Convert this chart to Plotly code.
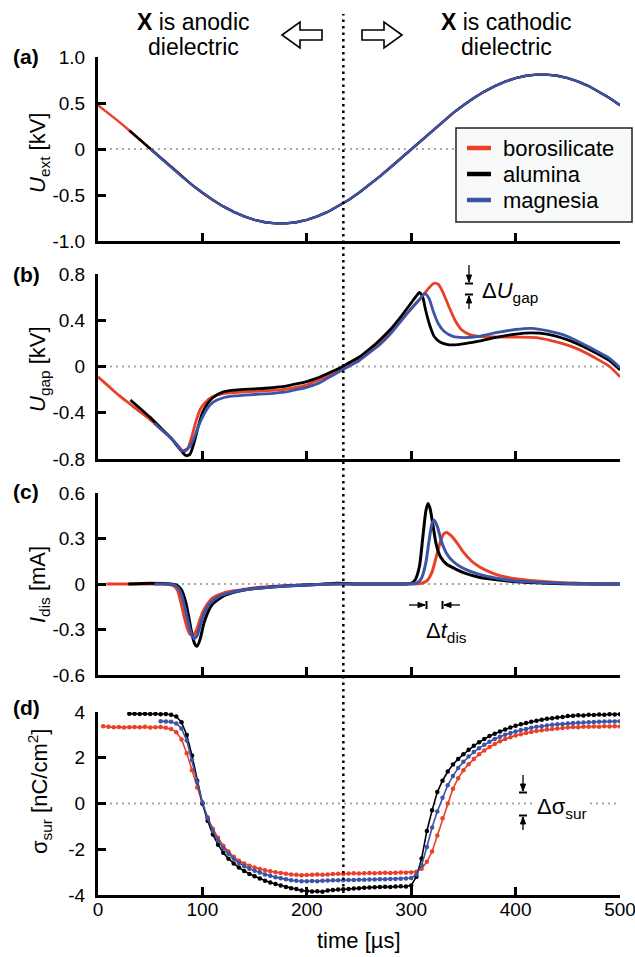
import plotly.graph_objects as go

W, H = 635, 957
FONT = "Liberation Sans, Arial, Helvetica, sans-serif"
RED, BLACK, BLUE = "#ea4028", "#000000", "#3b54a7"

# ---------------- data ----------------
names = ["borosilicate", "alumina", "magnesia"]

# (a) external voltage [kV]
t_ext = [0, 10, 20, 30, 40, 50, 60, 70, 80, 90, 100, 110, 120, 130, 140, 150, 160, 170, 180, 190,
         200, 210, 220, 230, 240, 250, 260, 270, 280, 290, 300, 310, 320, 330, 340, 350, 360, 370,
         380, 390, 400, 410, 420, 430, 440, 450, 460, 470, 480, 490, 500]
u_ext = [0.476, 0.390, 0.298, 0.201, 0.102, 0.0, -0.102, -0.201, -0.298, -0.390, -0.476, -0.555,
         -0.624, -0.684, -0.733, -0.770, -0.796, -0.808, -0.808, -0.796, -0.770, -0.733, -0.684,
         -0.624, -0.555, -0.476, -0.390, -0.298, -0.201, -0.102, 0.0, 0.102, 0.201, 0.298, 0.390,
         0.476, 0.555, 0.624, 0.684, 0.733, 0.770, 0.796, 0.808, 0.808, 0.796, 0.770, 0.733, 0.684,
         0.624, 0.555, 0.476]
ext_start = {"borosilicate": 0, "alumina": 3, "magnesia": 5}   # index where each record starts

# (b) gap voltage [kV]
t_gap_boro = [0, 10, 20, 30, 40, 50, 60, 70, 78, 82, 86, 90, 94, 98, 103, 110, 120, 130, 140, 150,
              160, 170, 180, 190, 200, 210, 220, 230, 240, 250, 260, 270, 280, 290, 300, 310, 318,
              322, 326, 330, 336, 342, 348, 355, 365, 380, 400, 420, 440, 460, 475, 490, 500]
u_gap_boro = [-0.09, -0.17, -0.25, -0.32, -0.39, -0.46, -0.54, -0.62, -0.70, -0.74, -0.71, -0.60,
              -0.47, -0.37, -0.31, -0.26, -0.235, -0.225, -0.22, -0.215, -0.21, -0.205, -0.195,
              -0.18, -0.16, -0.12, -0.08, -0.03, 0.02, 0.07, 0.13, 0.21, 0.30, 0.40, 0.50, 0.60,
              0.69, 0.72, 0.71, 0.65, 0.52, 0.40, 0.32, 0.28, 0.26, 0.255, 0.255, 0.25, 0.21, 0.15,
              0.08, 0.0, -0.09]
t_gap_alum = [31, 40, 50, 60, 70, 78, 84, 88, 92, 96, 100, 105, 110, 120, 130, 140, 150, 160, 170,
              180, 190, 200, 210, 220, 230, 240, 250, 260, 270, 280, 290, 300, 305, 308, 311, 314,
              318, 322, 328, 335, 345, 360, 380, 400, 415, 430, 450, 470, 490, 500]
u_gap_alum = [-0.29, -0.36, -0.44, -0.53, -0.62, -0.71, -0.77, -0.76, -0.66, -0.52, -0.40, -0.32,
              -0.27, -0.22, -0.205, -0.198, -0.193, -0.188, -0.18, -0.17, -0.15, -0.13, -0.10,
              -0.06, -0.02, 0.03, 0.08, 0.15, 0.23, 0.32, 0.43, 0.55, 0.61, 0.64, 0.60, 0.48, 0.35,
              0.26, 0.21, 0.19, 0.19, 0.21, 0.25, 0.28, 0.29, 0.28, 0.23, 0.15, 0.05, -0.03]
t_gap_mag = [54, 60, 70, 76, 80, 84, 88, 92, 96, 100, 105, 110, 120, 130, 140, 150, 160, 170, 180,
             190, 200, 210, 220, 230, 240, 250, 260, 270, 280, 290, 300, 308, 313, 317, 321, 326,
             332, 340, 350, 365, 380, 400, 415, 430, 450, 470, 490, 500]
u_gap_mag = [-0.49, -0.54, -0.62, -0.68, -0.73, -0.72, -0.69, -0.62, -0.52, -0.44, -0.36, -0.31,
             -0.27, -0.255, -0.248, -0.242, -0.237, -0.23, -0.22, -0.20, -0.18, -0.15, -0.10,
             -0.05, 0.0, 0.05, 0.12, 0.19, 0.28, 0.39, 0.50, 0.58, 0.63, 0.59, 0.48, 0.37, 0.30,
             0.26, 0.25, 0.26, 0.29, 0.32, 0.33, 0.31, 0.26, 0.17, 0.07, -0.01]

# (c) discharge current [mA]
t_dis_boro = [8, 20, 40, 60, 68, 72, 76, 79, 82, 85, 88, 91, 94, 97, 100, 105, 110, 120, 130, 140,
              150, 170, 190, 210, 230, 250, 280, 300, 310, 315, 320, 324, 328, 331, 334, 338, 344,
              350, 358, 366, 375, 385, 400, 420, 440, 460, 480, 500]
i_dis_boro = [0.0, 0.0, 0.0, 0.0, -0.003, -0.01, -0.04, -0.11, -0.20, -0.28, -0.33, -0.34, -0.31,
              -0.25, -0.19, -0.13, -0.09, -0.06, -0.045, -0.035, -0.025, -0.015, -0.008, -0.003,
              0.0, 0.0, 0.0, 0.0, 0.005, 0.02, 0.08, 0.18, 0.28, 0.33, 0.34, 0.32, 0.27, 0.21,
              0.15, 0.11, 0.08, 0.055, 0.035, 0.02, 0.01, 0.005, 0.0, 0.0]
t_dis_alum = [29, 50, 70, 76, 80, 84, 87, 90, 93, 95, 98, 101, 105, 110, 120, 130, 140, 150, 170,
              190, 210, 230, 250, 270, 295, 300, 304, 308, 311, 314, 316, 318, 321, 324, 328, 334,
              342, 352, 365, 380, 400, 430, 460, 500]
i_dis_alum = [0.0, 0.005, 0.0, -0.01, -0.04, -0.12, -0.22, -0.33, -0.40, -0.41, -0.36, -0.27,
              -0.19, -0.13, -0.08, -0.055, -0.04, -0.03, -0.018, -0.01, -0.004, 0.005, 0.0, 0.0,
              0.0, 0.005, 0.03, 0.12, 0.30, 0.48, 0.53, 0.50, 0.38, 0.26, 0.18, 0.13, 0.10, 0.07,
              0.045, 0.03, 0.015, 0.005, 0.0, 0.0]
t_dis_mag = [54, 65, 72, 76, 80, 83, 86, 89, 92, 95, 98, 102, 107, 115, 125, 135, 150, 170, 190,
             210, 230, 260, 290, 302, 306, 310, 314, 317, 320, 322, 325, 329, 334, 340, 348, 358,
             370, 385, 400, 430, 460, 500]
i_dis_mag = [0.0, 0.0, -0.005, -0.02, -0.07, -0.15, -0.24, -0.32, -0.36, -0.34, -0.27, -0.19,
             -0.13, -0.085, -0.06, -0.045, -0.03, -0.018, -0.01, -0.004, 0.0, 0.0, 0.0, 0.003,
             0.01, 0.04, 0.14, 0.28, 0.40, 0.42, 0.38, 0.28, 0.20, 0.15, 0.11, 0.08, 0.055, 0.035,
             0.02, 0.008, 0.002, 0.0]

# (d) surface charge density [nC/cm^2], sampled every 5 us
t_sur_boro = list(range(5, 501, 5))
s_sur_boro = [3.38, 3.35, 3.33, 3.34, 3.32, 3.33, 3.34, 3.33, 3.35, 3.32, 3.33, 3.34, 3.31, 3.26,
              3.12, 2.80, 2.20, 1.45, 0.70, 0.0, -0.60, -1.10, -1.50, -1.85, -2.10, -2.33, -2.50,
              -2.62, -2.72, -2.80, -2.86, -2.92, -2.96, -3.00, -3.04, -3.07, -3.10, -3.12, -3.14,
              -3.13, -3.12, -3.10, -3.12, -3.10, -3.08, -3.07, -3.08, -3.06, -3.05, -3.06, -3.05,
              -3.04, -3.05, -3.04, -3.03, -3.04, -3.03, -3.02, -3.03, -3.02, -2.98, -2.85, -2.55,
              -2.10, -1.40, -0.65, 0.0, 0.65, 1.10, 1.45, 1.72, 1.95, 2.15, 2.32, 2.47, 2.60, 2.72,
              2.82, 2.90, 2.97, 3.03, 3.08, 3.13, 3.17, 3.20, 3.23, 3.26, 3.28, 3.30, 3.32, 3.34,
              3.33, 3.36, 3.35, 3.37, 3.36, 3.38, 3.37, 3.38, 3.37]
t_sur_alum = list(range(30, 501, 5))
s_sur_alum = [3.92, 3.92, 3.91, 3.92, 3.91, 3.92, 3.90, 3.91, 3.88, 3.80, 3.55, 3.00, 2.10, 1.00,
              0.0, -0.75, -1.35, -1.80, -2.15, -2.42, -2.62, -2.80, -2.95, -3.08, -3.18, -3.28,
              -3.38, -3.45, -3.52, -3.58, -3.65, -3.70, -3.74, -3.80, -3.82, -3.85, -3.84, -3.86,
              -3.80, -3.78, -3.76, -3.75, -3.74, -3.72, -3.70, -3.68, -3.67, -3.66, -3.65, -3.64,
              -3.65, -3.63, -3.62, -3.63, -3.58, -3.20, -2.40, -1.20, -0.30, 0.50, 1.00, 1.40,
              1.70, 1.95, 2.15, 2.35, 2.52, 2.68, 2.82, 2.95, 3.05, 3.15, 3.24, 3.32, 3.40, 3.46,
              3.52, 3.57, 3.62, 3.66, 3.70, 3.73, 3.76, 3.78, 3.82, 3.84, 3.86, 3.85, 3.88, 3.87,
              3.89, 3.88, 3.90, 3.89, 3.90]
t_sur_mag = list(range(60, 501, 5))
s_sur_mag = [3.60, 3.58, 3.57, 3.50, 3.28, 2.75, 1.90, 0.95, 0.05, -0.65, -1.20, -1.62, -1.95,
             -2.20, -2.42, -2.60, -2.74, -2.85, -2.94, -3.02, -3.10, -3.16, -3.22, -3.27, -3.31,
             -3.35, -3.38, -3.40, -3.40, -3.39, -3.40, -3.38, -3.37, -3.36, -3.35, -3.35, -3.34,
             -3.34, -3.33, -3.33, -3.32, -3.32, -3.31, -3.31, -3.30, -3.30, -3.29, -3.28, -3.26,
             -3.10, -2.70, -1.90, -1.05, -0.35, 0.25, 0.80, 1.20, 1.55, 1.82, 2.05, 2.25, 2.42,
             2.57, 2.70, 2.82, 2.92, 3.01, 3.08, 3.15, 3.21, 3.26, 3.31, 3.35, 3.38, 3.41, 3.44,
             3.46, 3.48, 3.50, 3.52, 3.53, 3.54, 3.55, 3.56, 3.57, 3.58, 3.58, 3.59, 3.60]

x_ticks = [0, 100, 200, 300, 400, 500]
y_ticks = {
    1: ([-1.0, -0.5, 0, 0.5, 1.0], ["-1.0", "-0.5", "0", "0.5", "1.0"]),
    2: ([-0.8, -0.4, 0, 0.4, 0.8], ["-0.8", "-0.4", "0", "0.4", "0.8"]),
    3: ([-0.6, -0.3, 0, 0.3, 0.6], ["-0.6", "-0.3", "0", "0.3", "0.6"]),
    4: ([-4, -2, 0, 2, 4], ["-4", "-2", "0", "2", "4"]),
}
y_ranges = {1: [-1.0, 1.0], 2: [-0.8, 0.8], 3: [-0.6, 0.6], 4: [-4, 4]}
t_boundary = 235

# ---------------- layout helpers ----------------
def X(px):
    return px / W


def Y(py):
    return 1 - py / H


panel_px = {1: (57, 241), 2: (274, 459), 3: (493, 675), 4: (712, 895)}
x_dom = [X(98), X(620)]

fig = go.Figure()
colors = {"borosilicate": RED, "alumina": BLACK, "magnesia": BLUE}

# (a)
for n in names:
    s = ext_start[n]
    fig.add_trace(go.Scatter(x=t_ext[s:], y=u_ext[s:], mode="lines", name=n,
                             line=dict(color=colors[n], width=2.4), showlegend=False,
                             xaxis="x", yaxis="y"))
# (b)
for tt, vv, n in [(t_gap_boro, u_gap_boro, "borosilicate"), (t_gap_alum, u_gap_alum, "alumina"),
                  (t_gap_mag, u_gap_mag, "magnesia")]:
    fig.add_trace(go.Scatter(x=tt, y=vv, mode="lines", name=n, line=dict(color=colors[n], width=2.8,
                             shape="spline", smoothing=0.6), showlegend=False, xaxis="x2", yaxis="y2"))
# (c)
for tt, vv, n in [(t_dis_boro, i_dis_boro, "borosilicate"), (t_dis_alum, i_dis_alum, "alumina"),
                  (t_dis_mag, i_dis_mag, "magnesia")]:
    fig.add_trace(go.Scatter(x=tt, y=vv, mode="lines", name=n, line=dict(color=colors[n], width=3,
                             shape="spline", smoothing=0.6), showlegend=False, xaxis="x3", yaxis="y3"))
# (d)
for tt, vv, n in [(t_sur_boro, s_sur_boro, "borosilicate"), (t_sur_alum, s_sur_alum, "alumina"),
                  (t_sur_mag, s_sur_mag, "magnesia")]:
    fig.add_trace(go.Scatter(x=tt, y=vv, mode="lines+markers", name=n,
                             line=dict(color=colors[n], width=1.6),
                             marker=dict(color=colors[n], size=4.5),
                             showlegend=False, xaxis="x4", yaxis="y4"))

layout = dict(template="none", width=W, height=H, autosize=False,
              margin=dict(l=0, r=0, t=0, b=0, pad=0, autoexpand=False),
              paper_bgcolor="white", plot_bgcolor="white",
              font=dict(family=FONT, size=18, color="black"),
              showlegend=False)

for i in range(1, 5):
    top, bot = panel_px[i]
    xa = "xaxis" if i == 1 else f"xaxis{i}"
    ya = "yaxis" if i == 1 else f"yaxis{i}"
    layout[xa] = dict(domain=x_dom, range=[0, 500], anchor="y" if i == 1 else f"y{i}",
                      showline=True, linecolor="black", linewidth=3, mirror=False,
                      ticks="inside", ticklen=8, tickwidth=3, tickcolor="black",
                      tickvals=x_ticks, ticktext=[str(v) for v in x_ticks],
                      showticklabels=(i == 4), tickfont=dict(size=19), automargin=False,
                      ticklabeloverflow="allow", ticklabelstandoff=-5,
                      showgrid=False, zeroline=False, fixedrange=True)
    tv, tx = y_ticks[i]
    layout[ya] = dict(domain=[Y(bot), Y(top)], range=y_ranges[i], anchor="x" if i == 1 else f"x{i}",
                      showline=True, linecolor="black", linewidth=3, mirror=False,
                      ticks="inside", ticklen=8, tickwidth=3, tickcolor="black",
                      tickvals=tv, ticktext=tx, tickfont=dict(size=19), ticklabelstandoff=6,
                      ticklabeloverflow="allow",
                      automargin=False, showgrid=False, zeroline=False, fixedrange=True)
fig.update_layout(**layout)

shapes = []
# gray zero lines
for i in range(1, 5):
    xr = "x" if i == 1 else f"x{i}"
    yr = "y" if i == 1 else f"y{i}"
    shapes.append(dict(type="line", xref=xr, yref=yr, x0=0, x1=500, y0=0, y1=0, layer="below",
                       line=dict(color="#a8a8a8", width=2, dash="2px,4px")))
# vertical boundary line
shapes.append(dict(type="line", xref="x", yref="paper", x0=t_boundary, x1=t_boundary,
                   y0=Y(893), y1=Y(14), line=dict(color="black", width=2.5, dash="2.5px,4px")))


def poly(pts):
    return "M " + " L ".join(f"{X(a):.5f},{Y(b):.5f}" for a, b in pts) + " Z"


left_arrow = [(282, 35), (300, 22), (300, 30), (322, 30), (322, 40), (300, 40), (300, 48)]
right_arrow = [(402, 35), (384, 22), (384, 30), (362, 30), (362, 40), (384, 40), (384, 48)]
for pts in (left_arrow, right_arrow):
    shapes.append(dict(type="path", xref="paper", yref="paper", path=poly(pts),
                       fillcolor="white", line=dict(color="black", width=1.6)))


def small_arrow(x0, y0, x1, y1, bar_half=4):
    """shaft from (x0,y0) to tip (x1,y1) in pixels with a filled head and a bar at the tip"""
    out = [dict(type="line", xref="paper", yref="paper", x0=X(x0), y0=Y(y0), x1=X(x1), y1=Y(y1),
                line=dict(color="black", width=1.3))]
    if x0 == x1:
        d = 1 if y1 > y0 else -1
        head = [(x1, y1), (x1 - 2.6, y1 - d * 7), (x1 + 2.6, y1 - d * 7)]
        bar = (x1 - bar_half, y1 + d * 1.5, x1 + bar_half, y1 + d * 1.5)
    else:
        d = 1 if x1 > x0 else -1
        head = [(x1, y1), (x1 - d * 7, y1 - 2.6), (x1 - d * 7, y1 + 2.6)]
        bar = (x1 + d * 1.5, y1 - bar_half, x1 + d * 1.5, y1 + bar_half)
    out.append(dict(type="path", xref="paper", yref="paper", path=poly(head),
                    fillcolor="black", line=dict(color="black", width=1)))
    out.append(dict(type="line", xref="paper", yref="paper", x0=X(bar[0]), y0=Y(bar[1]),
                    x1=X(bar[2]), y1=Y(bar[3]), line=dict(color="black", width=2)))
    return out


shapes += small_arrow(469, 265, 469, 282)
shapes += small_arrow(469, 309, 469, 296)
shapes += small_arrow(409, 605, 425, 605)
shapes += small_arrow(460, 605, 444, 605)
shapes += small_arrow(523, 775, 523, 791)
shapes += small_arrow(523, 830, 523, 817)

# legend box (drawn manually for exact spacing)
shapes.append(dict(type="rect", xref="paper", yref="paper", x0=X(456), x1=X(632), y0=Y(222),
                   y1=Y(128), fillcolor="#f8f9f9", line=dict(color="#222", width=1.5)))
legend_rows = [148, 174, 200]
for n, ry in zip(names, legend_rows):
    shapes.append(dict(type="line", xref="paper", yref="paper", x0=X(467), x1=X(491),
                       y0=Y(ry), y1=Y(ry), line=dict(color=colors[n], width=4.5)))
fig.update_layout(shapes=shapes)

ann = []


def text(px, py, s, size=22, xanchor="center", angle=0, bg=None):
    d = dict(x=X(px), y=Y(py), xref="paper", yref="paper", text=s, showarrow=False,
             xanchor=xanchor, yanchor="middle", textangle=angle,
             font=dict(family=FONT, size=size, color="black"))
    if bg:
        d["bgcolor"] = bg
    ann.append(d)


for n, ry in zip(names, legend_rows):
    text(501, ry, n, 22, xanchor="left")

text(193, 22, "<b>X</b> is anodic", 23)
text(193, 47, "dielectric", 23)
text(506, 22, "<b>X</b> is cathodic", 23)
text(506, 47, "dielectric", 23)
text(26, 56, "<b>(a)</b>", 21)
text(26, 274, "<b>(b)</b>", 21)
text(26, 491, "<b>(c)</b>", 21)
text(26, 707, "<b>(d)</b>", 21)
text(39, 153, "<i>U</i><sub>ext</sub> [kV]", 22, angle=-90)
text(39, 369, "<i>U</i><sub>gap</sub> [kV]", 22, angle=-90)
text(39, 585, "<i>I</i><sub>dis</sub> [mA]", 22, angle=-90)
text(39, 792, "σ<sub>sur</sub> [nC/cm<sup>2</sup>]", 22, angle=-90)
text(359, 940, "time [µs]", 22)
text(480, 292, "Δ<i>U</i><sub>gap</sub>", 22, xanchor="left")
text(446, 632, "Δ<i>t</i><sub>dis</sub>", 22)
text(535, 808, "Δσ<sub>sur</sub>", 22, xanchor="left", bg="white")
fig.update_layout(annotations=ann)

fig.write_html("out.html", config={"displayModeBar": False},
               post_script="document.body.style.margin='0';document.body.style.overflow='hidden';")
